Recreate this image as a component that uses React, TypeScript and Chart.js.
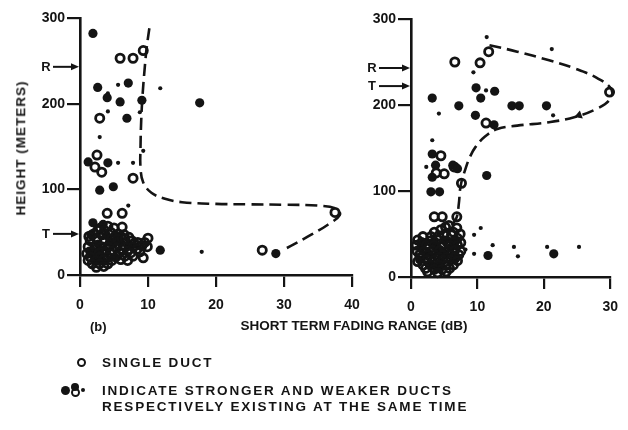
import React, { useEffect, useRef } from "react";
import { Chart, registerables } from "chart.js";

Chart.register(...registerables);

const FONT = "'Liberation Sans', Arial, sans-serif";
const INK = "#141414";

type Pt = [number, number];

// ---------- shared axis values ----------
const heightTicks = [0, 100, 200, 300];

// ---------- left panel ----------
const leftRangeTicks = [0, 10, 20, 30, 40];
const leftLevels = [
  { label: "R", value: 243 },
  { label: "T", value: 48 },
];
const leftSingle: Pt[] = [
  [5.9, 253], [7.8, 253], [9.3, 262], [2.9, 183], [2.5, 140], [2.2, 126], [3.2, 120], [7.8, 113],
  [4.0, 72], [6.2, 72], [37.5, 73], [26.8, 29],
  [3.0, 55], [4.1, 57], [6.2, 56], [2.6, 52], [3.6, 52], [5.0, 55],
  [2.0, 48], [3.2, 47], [4.5, 50], [5.6, 48], [6.5, 47], [1.3, 45], [5.2, 45], [6.0, 45], [7.2, 44],
  [1.5, 40], [2.5, 42], [3.6, 41], [4.6, 42], [5.5, 42], [6.6, 42], [7.6, 40], [8.5, 38], [10.0, 43],
  [8.0, 37], [9.5, 38],
  [1.2, 33], [2.2, 34], [3.2, 33], [4.1, 33], [5.4, 32], [6.6, 33], [7.8, 33], [9.1, 34], [9.9, 33],
  [2.3, 30], [3.3, 28], [6.2, 30],
  [1.8, 27], [2.8, 26], [3.8, 27], [4.8, 28], [5.8, 27], [7.0, 28], [8.4, 30], [1.0, 25], [4.5, 25],
  [7.5, 26], [8.8, 27],
  [1.5, 21], [2.9, 21], [4.1, 21], [5.4, 22], [6.6, 22], [7.8, 22], [9.3, 20],
  [1.2, 17], [2.3, 17], [3.5, 18], [4.7, 17], [6.0, 18], [7.0, 17],
  [1.8, 13], [2.9, 13], [4.1, 13], [2.4, 9], [3.5, 10],
];
const leftStrong: Pt[] = [
  [1.9, 282], [2.6, 219], [7.1, 224], [4.0, 207], [5.9, 202], [9.1, 204], [6.9, 183], [17.6, 201],
  [1.2, 132], [4.1, 131], [2.9, 99], [4.9, 103], [11.8, 29], [28.8, 25],
  [1.9, 61], [3.4, 59], [1.6, 47], [2.7, 36], [3.9, 46], [5.0, 37], [2.2, 18], [3.4, 16],
  [1.4, 28], [6.0, 38], [7.2, 35], [3.0, 24], [5.2, 20], [4.3, 38],
];
const leftWeak: Pt[] = [
  [5.6, 222], [11.8, 218], [4.1, 212], [2.9, 161], [8.8, 190], [4.1, 191], [5.6, 131], [7.8, 131],
  [7.1, 81], [17.9, 27], [9.3, 145],
];
const leftTrend: Pt[] = [
  [10.2, 288], [9.8, 265], [9.5, 240], [9.2, 210], [9.0, 180], [8.9, 150], [8.9, 125], [9.3, 108],
  [10.5, 96], [12.5, 89], [15, 85], [20, 83], [25, 82.5], [30, 82], [35, 81], [37.8, 77],
  [38.2, 70], [36.5, 59], [34, 47], [31.5, 36], [29.8, 29],
];

// ---------- right panel ----------
const rightRangeTicks = [0, 10, 20, 30];
const rightLevels = [
  { label: "R", value: 243 },
  { label: "T", value: 222 },
];
const rightSingle: Pt[] = [
  [11.7, 262], [6.6, 250], [10.4, 249], [29.9, 215], [11.3, 179], [4.5, 141], [3.8, 121], [5.0, 120],
  [7.6, 109], [3.5, 70], [4.7, 70], [6.9, 70], [6.5, 128],
  [5.7, 60], [6.9, 57], [3.5, 52], [4.5, 55], [5.2, 58], [6.4, 52], [7.4, 50],
  [5.0, 49], [6.1, 49], [7.0, 45], [1.0, 43], [1.8, 47], [3.0, 47], [4.2, 48],
  [0.8, 37], [1.6, 40], [2.9, 42], [4.1, 43], [5.4, 41], [6.5, 41], [7.5, 40],
  [2.3, 37], [3.5, 37], [4.7, 37], [5.9, 37], [7.0, 37],
  [0.9, 30], [2.0, 30], [3.2, 31], [4.3, 31], [5.5, 31], [6.6, 31], [7.5, 30],
  [1.3, 26], [2.5, 26], [3.7, 26], [4.8, 26], [6.0, 26], [7.2, 26],
  [1.5, 23], [3.0, 23], [4.2, 23], [5.4, 23], [6.6, 23],
  [2.4, 20], [3.6, 20], [4.8, 20], [6.0, 20], [7.0, 19], [1.0, 18],
  [1.8, 14], [2.9, 14], [4.1, 14], [5.3, 14], [6.4, 14],
  [2.2, 10], [3.5, 9], [4.7, 9], [5.8, 10], [2.5, 6], [4.0, 5], [5.3, 6],
];
const rightStrong: Pt[] = [
  [9.8, 220], [12.6, 216], [10.5, 208], [3.2, 208], [7.2, 199], [15.2, 199], [16.3, 199], [20.4, 199],
  [9.7, 188], [12.5, 177], [3.2, 143], [3.7, 130], [3.2, 116], [6.3, 130], [7.0, 126], [11.4, 118],
  [3.0, 99], [4.3, 99], [11.6, 25], [21.5, 27],
  [2.0, 40], [3.5, 42], [5.2, 43], [1.5, 34], [6.3, 41], [2.8, 15], [4.5, 16], [6.8, 22], [1.3, 20],
  [3.8, 33], [5.0, 28], [2.6, 28], [6.0, 34], [4.0, 10],
];
const rightWeak: Pt[] = [
  [11.4, 279], [21.2, 265], [9.4, 238], [11.3, 217], [21.4, 188], [4.2, 190], [3.2, 159], [2.3, 128],
  [10.5, 57], [9.5, 49], [12.3, 37], [15.5, 35], [20.5, 35], [25.3, 35], [9.5, 27], [16.1, 24], [8.2, 32],
];
const rightTrend: Pt[] = [
  [6.2, 60], [6.9, 70], [7.2, 85], [7.5, 107], [8.3, 128], [8.9, 140], [9.7, 151], [11.1, 163],
  [13.0, 172], [16, 176], [20.8, 180], [24.7, 186], [28.1, 196], [29.9, 206], [30.2, 218],
  [28.1, 231], [24.5, 243], [20.8, 252], [16, 262], [11.6, 270],
];
const rightArrowHead: Pt[] = [[25.3, 188]];

const toXY = (a: Pt[]) => a.map(([x, y]) => ({ x, y }));

// Labelled arrows pointing at the height axis (R, T levels)
const levelArrows = {
  id: "levelArrows",
  afterDraw(chart: any, _args: any, opts: any) {
    const { ctx } = chart;
    const yScale = chart.scales.y;
    const left = chart.chartArea.left;
    ctx.save();
    ctx.fillStyle = INK;
    ctx.strokeStyle = INK;
    ctx.font = `bold 13px ${FONT}`;
    ctx.textAlign = "center";
    ctx.textBaseline = "middle";
    for (const m of opts.marks || []) {
      const py = yScale.getPixelForValue(m.value);
      const lx = left - opts.gap;
      ctx.fillText(m.label, lx, py + 0.5);
      ctx.lineWidth = 2;
      ctx.beginPath();
      ctx.moveTo(lx + 7, py);
      ctx.lineTo(left - 5, py);
      ctx.stroke();
      ctx.beginPath();
      ctx.moveTo(left - 1, py);
      ctx.lineTo(left - 9, py - 3.5);
      ctx.lineTo(left - 9, py + 3.5);
      ctx.closePath();
      ctx.fill();
    }
    ctx.restore();
  },
};

interface PanelSpec {
  xMax: number;
  xTicks: number[];
  single: Pt[];
  strong: Pt[];
  weak: Pt[];
  trend: Pt[];
  arrowHead: Pt[];
  levels: { label: string; value: number }[];
  levelGap: number;
  yWidth: number;
  xHeight: number;
  padding: { left: number; right: number; top: number; bottom: number };
}

function buildConfig(p: PanelSpec): any {
  const tickFont = { family: FONT, size: 14, weight: "bold" as const };
  return {
    type: "scatter",
    data: {
      datasets: [
        {
          type: "line",
          data: toXY(p.trend),
          borderColor: INK,
          borderWidth: 2.6,
          borderDash: [12, 6],
          pointRadius: 0,
          tension: 0.4,
          fill: false,
          clip: false,
        },
        {
          data: toXY(p.single),
          pointStyle: "circle",
          pointRadius: 4.1,
          borderWidth: 2.8,
          borderColor: INK,
          backgroundColor: "rgba(255,255,255,0)",
          clip: false,
        },
        {
          data: toXY(p.strong),
          pointStyle: "circle",
          pointRadius: 4.6,
          borderWidth: 0,
          backgroundColor: INK,
          clip: false,
        },
        {
          data: toXY(p.weak),
          pointStyle: "circle",
          pointRadius: 2.1,
          borderWidth: 0,
          backgroundColor: INK,
          clip: false,
        },
        {
          data: toXY(p.arrowHead),
          pointStyle: "triangle",
          rotation: 250,
          pointRadius: 5,
          borderWidth: 0,
          backgroundColor: INK,
          clip: false,
        },
      ],
    },
    options: {
      responsive: false,
      maintainAspectRatio: false,
      animation: false,
      events: [],
      layout: { padding: p.padding },
      plugins: {
        legend: { display: false },
        tooltip: { enabled: false },
        levelArrows: { marks: p.levels, gap: p.levelGap },
      },
      scales: {
        x: {
          type: "linear",
          min: 0,
          max: p.xMax,
          afterBuildTicks: (s: any) => {
            s.ticks = p.xTicks.map((v) => ({ value: v }));
          },
          afterFit: (s: any) => {
            s.height = p.xHeight;
          },
          grid: { drawOnChartArea: false, drawTicks: true, tickLength: 12, color: INK, lineWidth: 2.2 },
          border: { display: true, color: INK, width: 2.6 },
          ticks: { color: INK, font: tickFont, padding: 10, maxRotation: 0, autoSkip: false },
        },
        y: {
          type: "linear",
          min: 0,
          max: 300,
          afterBuildTicks: (s: any) => {
            s.ticks = heightTicks.map((v) => ({ value: v }));
          },
          afterFit: (s: any) => {
            s.width = p.yWidth;
          },
          grid: { drawOnChartArea: false, drawTicks: true, tickLength: 13, color: INK, lineWidth: 2.2 },
          border: { display: true, color: INK, width: 2.6 },
          ticks: { color: INK, font: tickFont, padding: 2, autoSkip: false },
        },
      },
    },
    plugins: [levelArrows],
  };
}

const leftPanel: PanelSpec = {
  xMax: 40,
  xTicks: leftRangeTicks,
  single: leftSingle,
  strong: leftStrong,
  weak: leftWeak,
  trend: leftTrend,
  arrowHead: [],
  levels: leftLevels,
  levelGap: 34,
  yWidth: 80,
  xHeight: 45,
  padding: { left: 0, right: 18, top: 18, bottom: 0 },
};

const rightPanel: PanelSpec = {
  xMax: 30,
  xTicks: rightRangeTicks,
  single: rightSingle,
  strong: rightStrong,
  weak: rightWeak,
  trend: rightTrend,
  arrowHead: rightArrowHead,
  levels: rightLevels,
  levelGap: 39,
  yWidth: 81,
  xHeight: 43,
  padding: { left: 0, right: 12, top: 19, bottom: 0 },
};

const textBase: React.CSSProperties = {
  position: "absolute",
  fontFamily: FONT,
  fontWeight: "bold",
  color: INK,
  whiteSpace: "nowrap",
  lineHeight: 1,
};

const legendText: React.CSSProperties = { ...textBase, fontSize: 13.5, letterSpacing: 1.8, left: 102 };

function Dot({ x, y, r, open }: { x: number; y: number; r: number; open?: boolean }) {
  return (
    <span
      style={{
        position: "absolute",
        left: x - r,
        top: y - r,
        width: r * 2,
        height: r * 2,
        boxSizing: "border-box",
        borderRadius: "50%",
        background: open ? "#fff" : INK,
        border: open ? `2.2px solid ${INK}` : "none",
      }}
    />
  );
}

export default function App() {
  const leftRef = useRef<HTMLCanvasElement>(null);
  const rightRef = useRef<HTMLCanvasElement>(null);

  useEffect(() => {
    const charts: Chart[] = [];
    if (leftRef.current) charts.push(new Chart(leftRef.current, buildConfig(leftPanel)));
    if (rightRef.current) charts.push(new Chart(rightRef.current, buildConfig(rightPanel)));
    return () => charts.forEach((c) => c.destroy());
  }, []);

  return (
    <div
      style={{
        position: "absolute",
        left: 0,
        top: 0,
        width: 628,
        height: 430,
        background: "#fff",
        overflow: "hidden",
      }}
    >
      <canvas ref={leftRef} width={370} height={320} style={{ position: "absolute", left: 0, top: 0 }} />
      <canvas ref={rightRef} width={298} height={320} style={{ position: "absolute", left: 330, top: 0 }} />

      <div
        style={{
          ...textBase,
          fontSize: 13.5,
          letterSpacing: 1,
          left: 21,
          top: 148,
          transform: "translate(-50%, -50%) rotate(-90deg)",
        }}
      >
        HEIGHT (METERS)
      </div>

      <div style={{ ...textBase, fontSize: 13, left: 90, top: 320 }}>(b)</div>
      <div style={{ ...textBase, fontSize: 13.5, left: 354, top: 326, transform: "translate(-50%, -50%)" }}>
        SHORT TERM FADING RANGE (dB)
      </div>

      <Dot x={81} y={362} r={4.5} open />
      <div style={{ ...legendText, top: 356 }}>SINGLE DUCT</div>

      <Dot x={65} y={390} r={4.5} />
      <Dot x={75} y={392} r={4.5} open />
      <Dot x={75} y={387} r={4} />
      <Dot x={83} y={390} r={2} />
      <div style={{ ...legendText, top: 384 }}>INDICATE STRONGER AND WEAKER DUCTS</div>
      <div style={{ ...legendText, top: 400 }}>RESPECTIVELY EXISTING AT THE SAME TIME</div>
    </div>
  );
}
